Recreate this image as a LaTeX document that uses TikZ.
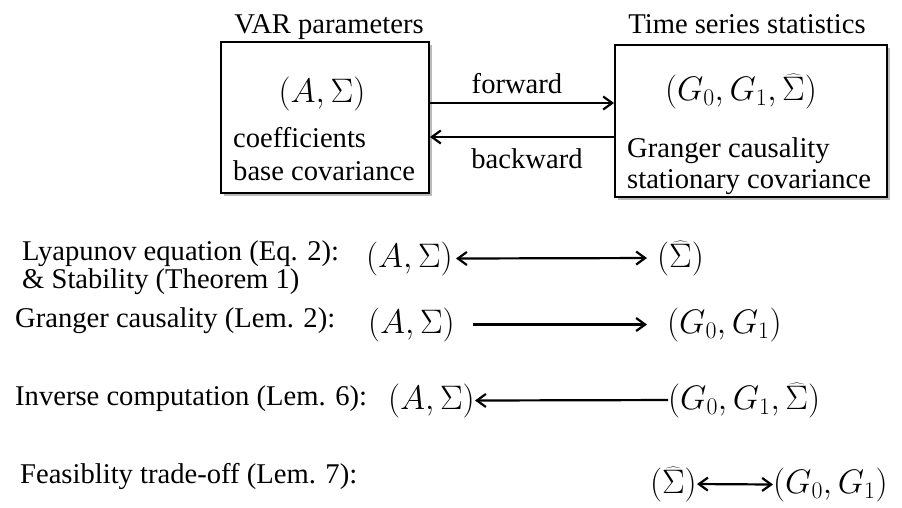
\RequirePackage{fix-cm}
\documentclass[tikz,border=0pt]{standalone}
\usepackage{fontspec}
\setmainfont{Liberation Serif}
\usetikzlibrary{arrows.meta,shadows}
\begin{document}
\begin{tikzpicture}[x=1pt,y=-1pt,
  txt/.style={font=\fontsize{28.6}{32}\selectfont, inner sep=0pt},
  mth/.style={font=\fontsize{34}{40}\selectfont, inner sep=0pt},
  box/.style={draw, line width=1.9pt, fill=white, inner sep=0pt,
    drop shadow={shadow xshift=2.5pt, shadow yshift=-2.5pt, fill=black!45, opacity=0.6}},
  tip/.tip={Straight Barb[length=9pt,width=13pt]},
  arr/.style={line width=2.2pt, -tip},
  darr/.style={line width=2.2pt, tip-tip}]
\useasboundingbox (0,0) rectangle (902,507);

% boxes
\node[box, minimum width=208pt, minimum height=151pt] (L) at (325,117.5) {};
\node[box, minimum width=272pt, minimum height=152pt] (R) at (751,121) {};

\node[txt, anchor=base] (Lt) at (329,33) {VAR parameters};
\node[txt, anchor=base] (Rt) at (747,33) {Time series statistics};
\node[mth, anchor=base] (Lm) at (322,102) {$(A,\Sigma)$};
\node[txt, anchor=base west] (L1) at (233,147) {coefficients};
\node[txt, anchor=base west] (L2) at (233,180) {base covariance};
\node[mth, anchor=base] (Rm) at (741,100) {$(G_0,G_1,\widehat{\Sigma})$};
\node[txt, anchor=base west] (R1) at (627,157) {Granger causality};
\node[txt, anchor=base west] (R2) at (627,188) {stationary covariance};

\coordinate (fy) at (0,103);
\coordinate (by) at (0,137);
\draw[arr] (L.east |- fy) -- (R.west |- fy);
\draw[arr] (R.west |- by) -- (L.east |- by);
\node[txt, anchor=base] (fw) at (517,93) {forward};
\node[txt, anchor=base] (bw) at (527,168) {backward};

% rows
\node[txt, anchor=base west] (t1) at (22,260) {Lyapunov equation (Eq. 2):};
\node[txt, anchor=base west] (t1b) at (22,288) {\& Stability (Theorem 1)};
\node[txt, anchor=base west] (t2) at (15,327) {Granger causality (Lem. 2):};
\node[txt, anchor=base west] (t3) at (15,405) {Inverse computation (Lem. 6):};
\node[txt, anchor=base west] (t4) at (20,483) {Feasiblity trade-off (Lem. 7):};

\node[mth, anchor=base east] (a1) at (453,267) {$(A,\Sigma)$};
\node[mth, anchor=base west] (s1) at (657,267) {$(\widehat{\Sigma})$};
\draw[darr] ([xshift=3pt]a1.east) -- ([xshift=-10pt]s1.west);

\node[mth, anchor=base east] (a2) at (455,333) {$(A,\Sigma)$};
\node[mth, anchor=base west] (g2) at (667,333) {$(G_0,G_1)$};
\draw[arr] ([xshift=18pt]a2.east) -- ([xshift=-20pt]g2.west);

\node[mth, anchor=base east] (a3) at (475,409) {$(A,\Sigma)$};
\node[mth, anchor=base west] (g3) at (668,409) {$(G_0,G_1,\widehat{\Sigma})$};
\draw[arr] (g3.west) -- (a3.east);

\node[mth, anchor=base east] (s4) at (697,493) {$(\widehat{\Sigma})$};
\node[mth, anchor=base west] (g4) at (773,493) {$(G_0,G_1)$};
\draw[darr] (s4.east) -- (g4.west);
\end{tikzpicture}
\end{document}
